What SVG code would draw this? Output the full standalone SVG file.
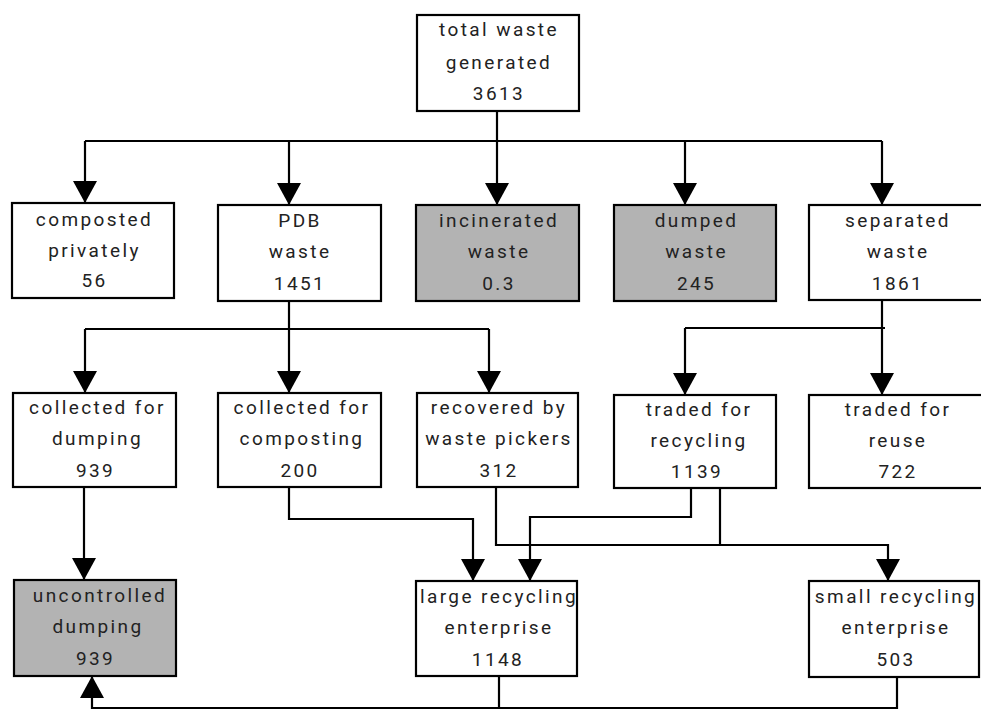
<svg xmlns="http://www.w3.org/2000/svg" width="981" height="715" viewBox="0 0 981 715">
<style>
.box{fill:#ffffff;stroke:#000000;stroke-width:2.2}
.grey{fill:#b3b3b3}
.t{font-family:Roboto,"Liberation Sans",Arial,sans-serif;font-size:19px;letter-spacing:2.4px;fill:#222222;text-anchor:middle}
.c{fill:none;stroke:#000000;stroke-width:2.2}
</style>
<defs>
<marker id="ah" viewBox="0 0 22 24" refX="22" refY="12" markerWidth="22" markerHeight="24" markerUnits="userSpaceOnUse" orient="auto">
<path d="M0,0 L22,12 L0,24 z" fill="#000000"/>
</marker>
</defs>
<rect width="981" height="715" fill="#ffffff"/>
<g id="connectors">
<path class="c" d="M497,111 V205" marker-end="url(#ah)"/>
<path class="c" d="M85,141 H882"/>
<path class="c" d="M85,141 V203" marker-end="url(#ah)"/>
<path class="c" d="M289,141 V205" marker-end="url(#ah)"/>
<path class="c" d="M685,141 V205" marker-end="url(#ah)"/>
<path class="c" d="M882,141 V205" marker-end="url(#ah)"/>
<path class="c" d="M289,301 V393" marker-end="url(#ah)"/>
<path class="c" d="M85,329 H489"/>
<path class="c" d="M85,329 V393" marker-end="url(#ah)"/>
<path class="c" d="M489,329 V393" marker-end="url(#ah)"/>
<path class="c" d="M882,300 V395" marker-end="url(#ah)"/>
<path class="c" d="M685,328 H885"/>
<path class="c" d="M685,328 V395" marker-end="url(#ah)"/>
<path class="c" d="M84,487 V580" marker-end="url(#ah)"/>
<path class="c" d="M289,487 V519 H473 V581" marker-end="url(#ah)"/>
<path class="c" d="M496,487 V545 H888 V581" marker-end="url(#ah)"/>
<path class="c" d="M691,488 V517 H530 V581" marker-end="url(#ah)"/>
<path class="c" d="M720,488 V545"/>
<path class="c" d="M499,676 V708 H92 V676" marker-end="url(#ah)"/>
<path class="c" d="M897,677 V708 H499"/>
</g>
<g id="total">
<rect class="box" x="417" y="15" width="162" height="96"/>
<text class="t" x="499" y="36">total waste</text>
<text class="t" x="499" y="69">generated</text>
<text class="t" x="499" y="100">3613</text>
</g>
<g id="composted">
<rect class="box" x="12" y="203" width="162" height="95"/>
<text class="t" x="94.5" y="226">composted</text>
<text class="t" x="94.5" y="257">privately</text>
<text class="t" x="94.5" y="287">56</text>
</g>
<g id="pdb">
<rect class="box" x="218" y="205" width="163" height="96"/>
<text class="t" x="300" y="227">PDB</text>
<text class="t" x="300" y="258">waste</text>
<text class="t" x="300" y="290">1451</text>
</g>
<g id="incinerated">
<rect class="box grey" x="416" y="205" width="163" height="96"/>
<text class="t" x="499" y="227">incinerated</text>
<text class="t" x="499" y="258">waste</text>
<text class="t" x="499" y="290">0.3</text>
</g>
<g id="dumped">
<rect class="box grey" x="614" y="205" width="162" height="96"/>
<text class="t" x="696.5" y="227">dumped</text>
<text class="t" x="696.5" y="258">waste</text>
<text class="t" x="696.5" y="290">245</text>
</g>
<g id="separated">
<rect class="box" x="809" y="205" width="185" height="95"/>
<text class="t" x="898" y="227">separated</text>
<text class="t" x="898" y="258">waste</text>
<text class="t" x="898" y="290">1861</text>
</g>
<g id="collected-dumping">
<rect class="box" x="13" y="393" width="163" height="94"/>
<text class="t" x="97.5" y="414">collected for</text>
<text class="t" x="97.5" y="445">dumping</text>
<text class="t" x="95.5" y="477">939</text>
</g>
<g id="collected-composting">
<rect class="box" x="218" y="393" width="163" height="94"/>
<text class="t" x="302" y="414">collected for</text>
<text class="t" x="302" y="445">composting</text>
<text class="t" x="300" y="477">200</text>
</g>
<g id="recovered">
<rect class="box" x="417" y="393" width="161" height="94"/>
<text class="t" x="499" y="414">recovered by</text>
<text class="t" x="499" y="445">waste pickers</text>
<text class="t" x="499" y="477">312</text>
</g>
<g id="traded-recycling">
<rect class="box" x="614" y="395" width="162" height="93"/>
<text class="t" x="699" y="416">traded for</text>
<text class="t" x="699" y="447">recycling</text>
<text class="t" x="697" y="478">1139</text>
</g>
<g id="traded-reuse">
<rect class="box" x="809" y="395" width="185" height="93"/>
<text class="t" x="898" y="416">traded for</text>
<text class="t" x="898" y="447">reuse</text>
<text class="t" x="898" y="478">722</text>
</g>
<g id="uncontrolled">
<rect class="box grey" x="14" y="580" width="162" height="96"/>
<text class="t" x="100" y="602">uncontrolled</text>
<text class="t" x="98" y="633">dumping</text>
<text class="t" x="95.5" y="665">939</text>
</g>
<g id="large">
<rect class="box" x="416" y="581" width="161" height="95"/>
<text class="t" x="499" y="603">large recycling</text>
<text class="t" x="499" y="634">enterprise</text>
<text class="t" x="498" y="666">1148</text>
</g>
<g id="small">
<rect class="box" x="809" y="581" width="170" height="96"/>
<text class="t" x="896" y="603">small recycling</text>
<text class="t" x="896" y="634">enterprise</text>
<text class="t" x="896" y="666">503</text>
</g>
</svg>
